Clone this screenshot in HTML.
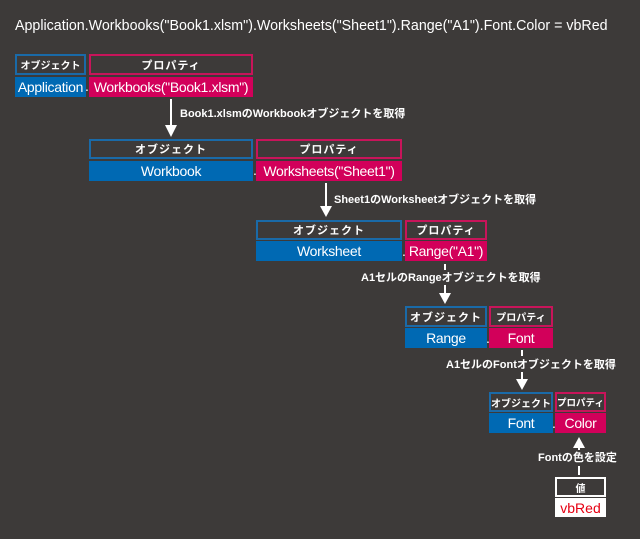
<!DOCTYPE html>
<html><head><meta charset="utf-8"><style>
body{margin:0;width:640px;height:539px;background:#3d3a39;position:relative;overflow:hidden;font-family:"Liberation Sans","Noto Sans CJK JP",sans-serif;color:#fff}
.a{position:absolute;box-sizing:border-box}
.lo,.lp{font-size:11px;font-weight:bold;display:flex;align-items:center;justify-content:center;font-family:"Noto Sans CJK JP",sans-serif;white-space:nowrap;letter-spacing:1px;overflow:hidden}
.lo{border:2px solid #1a6aa8}
.lp{border:2px solid #c8145a}
.sm{font-size:10px;letter-spacing:0}
.vo,.vp{font-size:14px;display:flex;align-items:center;justify-content:center;white-space:nowrap;letter-spacing:-0.3px}
.vo{background:#0069b3}
.vp{background:#d2005a}
.t{font-size:11px;font-weight:bold;white-space:nowrap;font-family:"Liberation Sans","Noto Sans CJK JP",sans-serif}
.dot{font-size:14px}
</style></head><body>
<div class="a" style="left:15px;top:17px;font-size:15px;transform:scaleX(0.95);transform-origin:0 0;white-space:nowrap">Application.Workbooks("Book1.xlsm").Worksheets("Sheet1").Range("A1").Font.Color = vbRed</div>

<div class="a lo sm" style="left:15px;top:54px;width:71px;height:21px">オブジェクト</div>
<div class="a lp" style="left:89px;top:54px;width:164px;height:21px">プロパティ</div>
<div class="a vo" style="left:15px;top:77px;width:71px;height:20px">Application</div>
<div class="a dot" style="left:85px;top:78px">.</div>
<div class="a vp" style="left:89px;top:77px;width:164px;height:20px">Workbooks("Book1.xlsm")</div>

<svg class="a" style="left:0;top:0" width="640" height="539">
<g stroke="#fff" stroke-width="2" fill="#fff">
<line x1="171" y1="99" x2="171" y2="128"/><polygon points="165,125 177,125 171,137" stroke="none"/>
<line x1="326" y1="183" x2="326" y2="208"/><polygon points="320,206 332,206 326,217" stroke="none"/>
<line x1="445" y1="264" x2="445" y2="270"/><line x1="445" y1="285" x2="445" y2="295"/><polygon points="439,293 451,293 445,304" stroke="none"/>
<line x1="522" y1="350" x2="522" y2="356"/><line x1="522" y1="372" x2="522" y2="381"/><polygon points="516,379 528,379 522,390" stroke="none"/>
<line x1="579" y1="466" x2="579" y2="475"/><line x1="579" y1="446" x2="579" y2="450"/><polygon points="573,448 585,448 579,437" stroke="none"/>
</g></svg>

<div class="a t" style="left:180px;top:105px">Book1.xlsmのWorkbookオブジェクトを取得</div>

<div class="a lo" style="left:89px;top:139px;width:164px;height:20px">オブジェクト</div>
<div class="a lp" style="left:256px;top:139px;width:146px;height:20px">プロパティ</div>
<div class="a vo" style="left:89px;top:161px;width:164px;height:20px">Workbook</div>
<div class="a dot" style="left:253px;top:162px">.</div>
<div class="a vp" style="left:256px;top:161px;width:146px;height:20px">Worksheets("Sheet1")</div>

<div class="a t" style="left:334px;top:191px">Sheet1のWorksheetオブジェクトを取得</div>

<div class="a lo" style="left:256px;top:220px;width:146px;height:20px">オブジェクト</div>
<div class="a lp" style="left:405px;top:220px;width:82px;height:20px">プロパティ</div>
<div class="a vo" style="left:256px;top:241px;width:146px;height:20px">Worksheet</div>
<div class="a dot" style="left:402px;top:243px">.</div>
<div class="a vp" style="left:405px;top:241px;width:82px;height:20px">Range("A1")</div>

<div class="a t" style="left:361px;top:269px">A1セルのRangeオブジェクトを取得</div>

<div class="a lo" style="left:405px;top:306px;width:82px;height:21px">オブジェクト</div>
<div class="a lp sm" style="left:489px;top:306px;width:64px;height:21px">プロパティ</div>
<div class="a vo" style="left:405px;top:328px;width:82px;height:20px">Range</div>
<div class="a dot" style="left:486px;top:330px">.</div>
<div class="a vp" style="left:489px;top:328px;width:64px;height:20px">Font</div>

<div class="a t" style="left:446px;top:356px">A1セルのFontオブジェクトを取得</div>

<div class="a lo sm" style="left:489px;top:392px;width:64px;height:20px">オブジェクト</div>
<div class="a lp sm" style="left:555px;top:392px;width:51px;height:20px;font-size:9.5px">プロパティ</div>
<div class="a vo" style="left:489px;top:413px;width:64px;height:20px">Font</div>
<div class="a dot" style="left:552px;top:415px">.</div>
<div class="a vp" style="left:555px;top:413px;width:51px;height:20px">Color</div>

<div class="a t" style="left:538px;top:449px">Fontの色を設定</div>

<div class="a" style="left:555px;top:477px;width:51px;height:20px;border:2px solid #fff;font-size:10px;font-weight:bold;display:flex;align-items:center;justify-content:center;font-family:'Noto Sans CJK JP',sans-serif">値</div>
<div class="a" style="left:555px;top:498px;width:51px;height:19px;background:#fff;color:#e60012;font-size:14px;display:flex;align-items:center;justify-content:center">vbRed</div>
</body></html>
